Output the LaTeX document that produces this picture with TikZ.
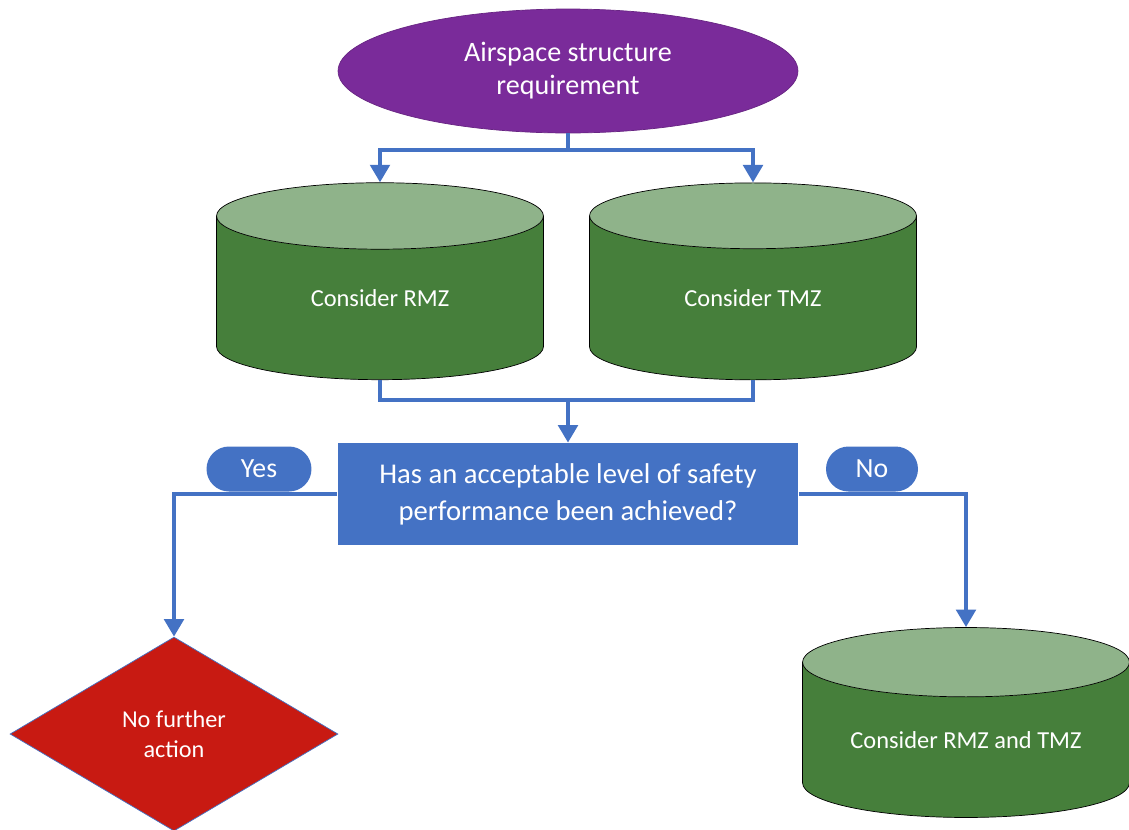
\documentclass[tikz,border=0pt]{standalone}
\usepackage{fontspec}
\setmainfont{Carlito}
\usetikzlibrary{arrows.meta,shapes.geometric}
\definecolor{airpurple}{HTML}{7A2B9A}
\definecolor{flowblue}{HTML}{4472C4}
\definecolor{cylgreen}{HTML}{467F3B}
\definecolor{cyltop}{HTML}{8FB38A}
\definecolor{stopred}{HTML}{C81A12}
\tikzset{
  cyl/.style={cylinder, shape border rotate=90, aspect=0.48, draw=black, thin, cylinder uses custom fill, cylinder body fill=cylgreen, cylinder end fill=cyltop, text=white, font=\fontsize{13.9}{17}\selectfont, minimum width=6.54cm, minimum height=3.94cm, inner sep=0pt},
  flow/.style={draw=flowblue, line width=2.4pt},
  arr/.style={flow, -{Triangle[length=10pt,width=11pt]}},
  pill/.style={fill=flowblue, rounded corners=0.45cm, minimum height=0.9cm, text=white, font=\fontsize{15.8}{19}\selectfont}
}
\begin{document}
\begin{tikzpicture}[x=0.02cm,y=-0.02cm]
\useasboundingbox (0,0) rectangle (1129,829);
\node[ellipse, fill=airpurple, draw=airpurple!85!black, minimum width=9.2cm, minimum height=2.48cm, text=white, align=center, font=\fontsize{16}{18.7}\selectfont] (air) at (568,71) {Airspace structure\\requirement};
\node[cyl] (rmz) at (380,298) {Consider RMZ};
\node[cyl] (tmz) at (753,298) {Consider TMZ};
\node[fill=flowblue, minimum width=9.22cm, minimum height=2.04cm, text=white, align=center, font=\fontsize{16.3}{21}\selectfont] (check) at (568,494) {Has an acceptable level of safety\\performance been achieved?};
\node[pill, minimum width=2.1cm] (yes) at (259,469) {Yes};
\node[pill, minimum width=1.84cm] (no) at (872,469) {No};
\node[diamond, fill=stopred, draw=flowblue, minimum width=6.56cm, minimum height=3.88cm, text=white, align=center, font=\fontsize{13.8}{17}\selectfont] (stop) at (174,734) {No further\\action};
\node[cyl, aspect=0.3, minimum height=3.8cm] (both) at (966,740) {Consider RMZ and TMZ};
\coordinate (split) at (568,150);
\coordinate (join) at (568,400);
\draw[flow] (air.south) -- (split);
\draw[arr] (split) -| (rmz.north);
\draw[arr] (split) -| (tmz.north);
\draw[flow] (rmz.south) |- (join) -| (tmz.south);
\draw[arr] (join) -- (check.north);
\draw[arr] (check.west) -| (stop.north);
\draw[arr] (check.east) -| (both.north);
\end{tikzpicture}
\end{document}
